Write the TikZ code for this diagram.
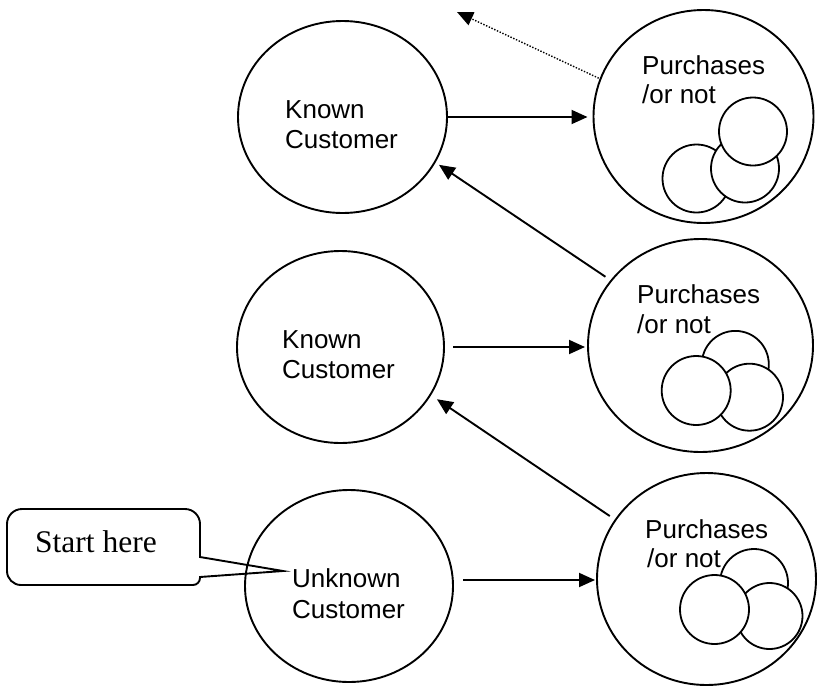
\documentclass[tikz,border=0pt]{standalone}
\usepackage{fontspec}
\setmainfont{Liberation Sans}
\newfontfamily\timesfont{Liberation Serif}
\usetikzlibrary{shapes.geometric,arrows.meta}
\begin{document}
\begin{tikzpicture}[x=1pt,y=-1pt,
  big/.style={draw,line width=1.9pt,ellipse,inner sep=0pt,outer sep=0pt},
  small/.style={draw,line width=1.8pt,circle,fill=white,inner sep=0pt,outer sep=0pt,minimum size=#1},
  lbl/.style={anchor=base west,inner sep=0pt,font=\fontsize{26}{30}\selectfont},
  arr/.style={line width=1.9pt,-{Triangle[length=16pt,width=14pt]}},
  dotarr/.style={line width=1.4pt,dash pattern=on 1.4pt off 1.6pt,-{Triangle[length=16pt,width=14pt]}},
  callout/.style={line width=1.9pt,line join=miter}]
\useasboundingbox (0,0) rectangle (817,686);

% left circles
\node[big,minimum width=209pt,minimum height=192pt] (c1) at (342.5,117) {};
\node[big,minimum width=207pt,minimum height=192pt] (c2) at (340.5,347) {};
\node[big,minimum width=208pt,minimum height=192pt] (c3) at (349,586) {};

\node[lbl] (c1a) at (285,118) {Known};
\node[lbl] (c1b) at (285,148) {Customer};
\node[lbl] (c2a) at (282,348) {Known};
\node[lbl] (c2b) at (282,378) {Customer};
\node[lbl] (c3a) at (292,587) {Unknown};
\node[lbl] (c3b) at (292,618) {Customer};

% right circles
\node[big,minimum width=220pt,minimum height=213pt] (r1) at (703.5,116.5) {};
\node[big,minimum width=225pt,minimum height=213pt] (r2) at (700.5,345.5) {};
\node[big,minimum width=219pt,minimum height=212pt] (r3) at (706.5,579) {};

\node[lbl] (r1a) at (642,74) {Purchases};
\node[lbl] (r1b) at (642,103) {/or not};
\node[lbl] (r2a) at (637,303) {Purchases};
\node[lbl] (r2b) at (637,333) {/or not};
\node[lbl] (r3a) at (645,538) {Purchases};
\node[lbl] (r3b) at (647,567) {/or not};

% small circles
\node[small=68pt] (s11) at (696.5,178.5) {};
\node[small=68pt] (s12) at (745,168.5) {};
\node[small=68pt] (s13) at (753,131.5) {};

\node[small=67pt] (s21) at (735.3,364.4) {};
\node[small=67pt] (s22) at (749.5,397.2) {};
\node[small=69pt] (s23) at (696.2,390.5) {};

\node[small=68pt] (s31) at (754,583) {};
\node[small=66pt] (s32) at (769.5,616) {};
\node[small=69pt] (s33) at (714.5,609.5) {};

% horizontal arrows
\draw[arr,shorten >=6pt] (c1.east) -- (c1.east -| r1.west);
\draw[arr,shorten <=9pt,shorten >=3pt] (c2.east) -- (c2.east -| r2.west);
\draw[arr,shorten <=10pt,shorten >=2pt] ([yshift=6pt]c3.east) -- ([yshift=6pt]c3.east -| r3.west);

% diagonal arrows
\draw[arr,shorten <=7pt,shorten >=5pt] (r2.144.2) -- (c1.-26.8);
\draw[arr,shorten <=7pt,shorten >=8pt] (r3.147.2) -- (c2.-28.5);

% dotted arrow
\coordinate (dotend) at (457,12);
\draw[dotarr,shorten <=2pt] (r1.160.4) -- (dotend);

% callout
\node[anchor=base west,inner sep=0pt,font=\timesfont\fontsize{31.5}{36}\selectfont] (start) at (35,552) {Start here};
\coordinate (tip) at (283,571);
\draw[callout] (200,557) -- (tip) -- (200,577) -- (200,578)
  arc[start angle=0,end angle=90,radius=7] -- (21,585)
  arc[start angle=90,end angle=180,radius=14] -- (7,524)
  arc[start angle=180,end angle=270,radius=15] -- (185,509)
  arc[start angle=270,end angle=360,radius=15] -- cycle;
\end{tikzpicture}
\end{document}
